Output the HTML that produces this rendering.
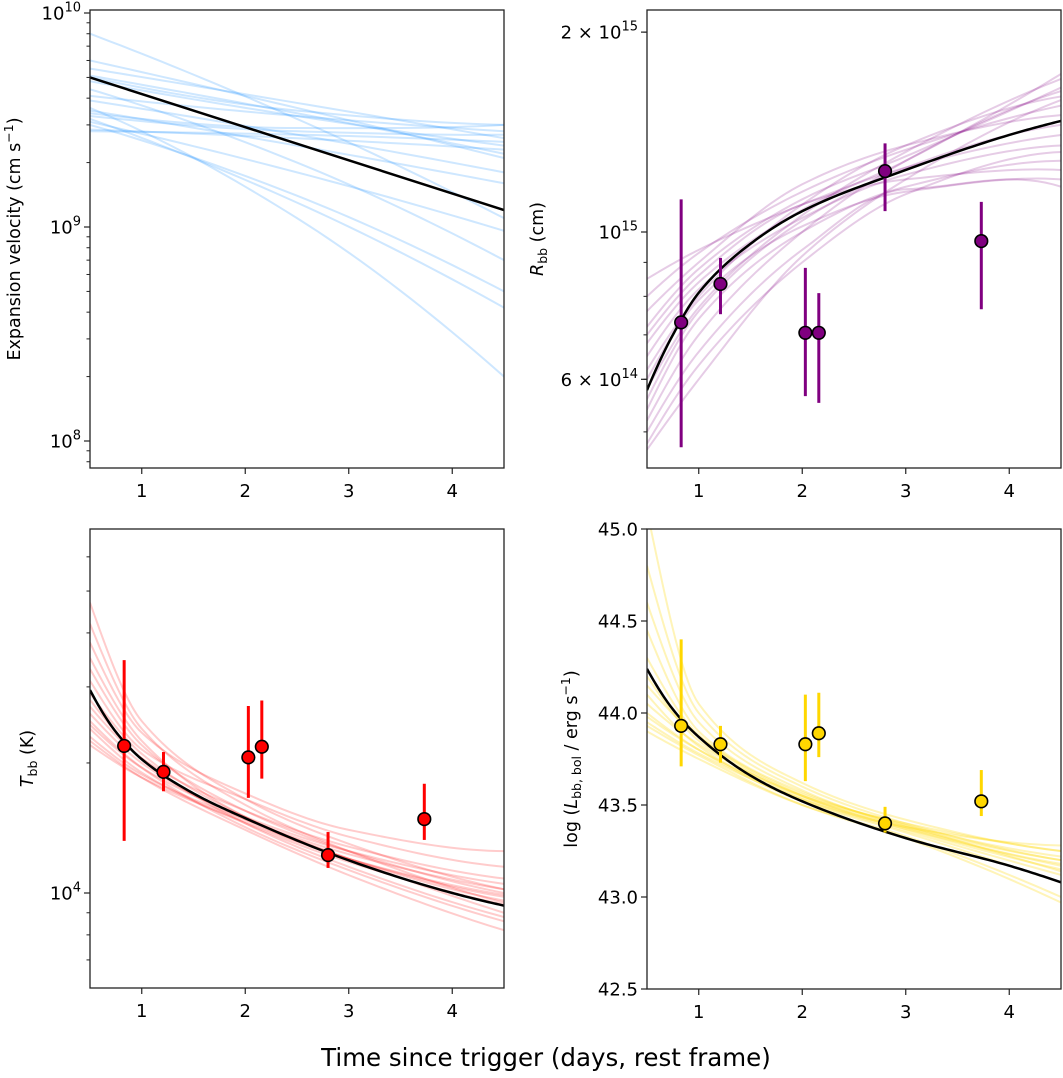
<!DOCTYPE html>
<html><head><meta charset="utf-8"><style>
html,body{margin:0;padding:0;background:#fff;}
svg{display:block;font-family:"DejaVu Sans","Liberation Sans",sans-serif;}
</style></head><body>
<svg id="fig" width="1063" height="1078" viewBox="0 0 1063 1078" xmlns="http://www.w3.org/2000/svg">
<defs>
<clipPath id="c1"><rect x="90" y="10" width="414" height="458"/></clipPath>
<clipPath id="c2"><rect x="647" y="10" width="414" height="458"/></clipPath>
<clipPath id="c3"><rect x="90" y="529" width="414" height="460"/></clipPath>
<clipPath id="c4"><rect x="647" y="529" width="414" height="460"/></clipPath>
</defs>
<text x="546" y="1066" font-size="24.5" text-anchor="middle">Time since trigger (days, rest frame)</text>
</svg>
<script>
// ---------- data ----------
const obsTimes = [0.83, 1.21, 2.03, 2.16, 2.80, 3.73];
const xTicks = [1, 2, 3, 4];
const sampleX = [0.5, 1, 2, 3, 4.5];
const fitX = [0.5, 0.75, 1, 1.5, 2, 3, 4, 4.5];

// velocity (units 1e9 cm/s) samples at x = 0.5, 2.5, 4.5
const velX = [0.5, 2.5, 4.5];
const velSamples = [
 [8.0,3.2,1.1],[6.0,3.6,2.1],[5.5,3.8,2.6],[5.1,3.4,2.2],[4.8,3.3,2.4],[4.4,2.0,0.7],
 [4.1,3.3,2.8],[3.9,2.7,1.8],[3.6,1.1,0.2],[3.5,2.4,1.6],[3.4,2.9,3.0],[3.3,2.8,2.7],
 [3.2,1.3,0.42],[3.1,1.8,0.96],[3.0,1.4,0.5],[2.8,2.7,2.5],[2.85,2.6,2.3],[5.0,3.5,3.0]
];
const velFitX = [0.5, 4.5];
const velFit = [5.0, 1.2];
const velTickVals = [1e8, 1e9, 1e10];

// radius (units 1e14 cm)
const rObs = [7.31, 8.35, 7.05, 7.05, 12.35, 9.69];
const rHi = [11.2, 9.14, 8.83, 8.09, 13.6, 11.1];
const rLo = [4.74, 7.52, 5.66, 5.53, 10.75, 7.65];
const rFit = [5.78, 7.0, 8.1, 9.6, 10.75, 12.4, 14.0, 14.7];
const rSamples = [
 [8.5,9.4,11.0,12.5,14.0],[8.0,9.3,11.5,13.3,15.5],[7.6,9.0,11.8,13.5,15.0],[7.2,8.8,11.2,13.0,16.5],
 [7.0,8.6,11.0,12.0,12.4],[6.8,8.4,10.8,12.8,17.3],[6.5,8.2,10.5,12.2,13.5],[6.2,8.0,11.0,13.5,16.0],
 [6.0,7.9,10.2,11.5,12.0],[5.8,7.7,10.6,13.2,17.0],[5.6,7.6,10.4,12.5,14.5],[5.4,7.4,10.0,11.7,12.8],
 [5.2,7.0,10.0,12.8,16.3],[5.0,6.6,9.4,11.6,11.7],[4.8,6.3,9.0,11.4,13.2],[4.7,6.0,9.2,12.0,15.8]
];

// temperature (units 1e3 K)
const tObs = [21.9, 19.07, 20.6, 21.8, 12.24, 14.83];
const tHi = [34.6, 21.2, 27.1, 27.9, 13.84, 17.9];
const tLo = [13.2, 17.2, 16.6, 18.4, 11.43, 13.27];
const tFit = [29.5, 23.6, 20.4, 17.0, 14.9, 11.9, 10.0, 9.35];
const tSamples = [
 [47,25,16.5,13,10.2],[42,24,16,12.5,9.5],[38,23.5,17,14,12.5],[35,22.5,15,12,9],
 [33,22,15.5,12.5,10],[31,21.5,16.5,13.5,11.5],[29,21,15,12,9.6],[28,20.5,14.5,11.5,8.8],
 [27,20.5,15.5,12.8,10.8],[26,20,14.8,12,9.8],[25,19.5,14.2,11.3,8.6],[24.5,19.5,15,12.5,10.5],
 [24,19,14.5,11.8,9.4],[23,18.8,14.8,12.3,10.2],[22.5,18.5,14,11,8.2],[22,18.5,14.6,12,9.9]
];

// luminosity (log erg/s)
const lObs = [43.93, 43.83, 43.83, 43.89, 43.40, 43.52];
const lHi = [44.40, 43.93, 44.10, 44.11, 43.49, 43.69];
const lLo = [43.71, 43.73, 43.63, 43.76, 43.35, 43.44];
const lFit = [44.24, 44.02, 43.87, 43.66, 43.52, 43.32, 43.17, 43.08];
const lSamples = [
 [45.1,44.05,43.62,43.42,43.25],[44.8,44.0,43.6,43.40,43.2],[44.6,43.95,43.58,43.38,43.18],
 [44.45,43.9,43.57,43.39,43.22],[44.3,43.88,43.55,43.37,43.15],[44.2,43.85,43.55,43.38,43.2],
 [44.1,43.82,43.53,43.36,43.12],[44.05,43.83,43.55,43.40,43.25],[44.0,43.8,43.52,43.35,43.08],
 [43.95,43.78,43.53,43.37,43.17],[43.9,43.75,43.5,43.33,43.0],[43.98,43.8,43.54,43.38,43.28],
 [44.15,43.87,43.56,43.39,43.14],[43.93,43.77,43.5,43.32,42.97]
];
const lTicks = [42.5, 43.0, 43.5, 44.0, 44.5, 45.0];

// ---------- helpers ----------
const NS = "http://www.w3.org/2000/svg";
const svg = document.getElementById('fig');
function mk(tag, attrs, parent) {
  const e = document.createElementNS(NS, tag);
  for (const k in attrs) e.setAttribute(k, attrs[k]);
  (parent || svg).appendChild(e);
  return e;
}
function curvePath(xs, ys, X, Yt, Ypix) {
  const n = xs.length;
  const t = ys.map(Yt);
  if (n === 2) return `M${X(xs[0])},${Ypix(t[0])} L${X(xs[1])},${Ypix(t[1])}`;
  const h = [], d = [];
  for (let i = 0; i < n - 1; i++) { h.push(xs[i + 1] - xs[i]); d.push((t[i + 1] - t[i]) / h[i]); }
  const m = new Array(n);
  for (let i = 1; i < n - 1; i++) {
    if (d[i - 1] * d[i] <= 0) m[i] = 0;
    else { const w1 = 2 * h[i] + h[i - 1], w2 = h[i] + 2 * h[i - 1]; m[i] = (w1 + w2) / (w1 / d[i - 1] + w2 / d[i]); }
  }
  m[0] = ((2 * h[0] + h[1]) * d[0] - h[0] * d[1]) / (h[0] + h[1]);
  m[n - 1] = ((2 * h[n - 2] + h[n - 3]) * d[n - 2] - h[n - 2] * d[n - 3]) / (h[n - 2] + h[n - 3]);
  let path = '';
  for (let i = 0; i < n - 1; i++) {
    for (let k = 0; k <= 20; k++) {
      if (i > 0 && k === 0) continue;
      const s = k / 20, hh = h[i];
      const h00 = 2*s*s*s - 3*s*s + 1, h10 = s*s*s - 2*s*s + s, h01 = -2*s*s*s + 3*s*s, h11 = s*s*s - s*s;
      const v = h00 * t[i] + h10 * hh * m[i] + h01 * t[i + 1] + h11 * hh * m[i + 1];
      const xx = xs[i] + s * hh;
      path += (path ? ' L' : 'M') + X(xx).toFixed(2) + ',' + Ypix(v).toFixed(2);
    }
  }
  return path;
}
function makePanel(p) {
  const g = mk('g', {});
  
  
  const X = v => p.left + (v - 0.5) * (p.width / 4);
  const Y = v => p.Ypix(p.Yt(v));
  const data = mk('g', {'clip-path': `url(#${p.clip})`}, g);
  p.samples.forEach(s => {
    const path = mk('path', {d: curvePath(p.sx, s, X, p.Yt, p.Ypix), fill: 'none', stroke: p.color, 'stroke-opacity': p.alpha, 'stroke-width': 2}, data);
    
    
  });
  const fit = mk('path', {d: curvePath(p.fx, p.fit, X, p.Yt, p.Ypix), fill: 'none', stroke: '#000', 'stroke-width': 2.5}, data);
  
  
  if (p.obs) {
    obsTimes.forEach((t, i) => {
      const eb = mk('line', {x1: X(t), x2: X(t), y1: Y(p.hi[i]), y2: Y(p.lo[i]), stroke: p.ecolor, 'stroke-width': 3}, data);
      
      
    });
    obsTimes.forEach((t, i) => {
      const c = mk('circle', {cx: X(t), cy: Y(p.obs[i]), r: 6.3, fill: p.ecolor, stroke: '#000', 'stroke-width': 1.6}, data);
      
      
    });
  }
  const fr = mk('rect', {x: p.left, y: p.top, width: p.width, height: p.bottom - p.top, fill: 'none', stroke: '#222', 'stroke-width': 1.3}, g);
  
  
  xTicks.forEach(t => {
    mk('line', {x1: X(t), x2: X(t), y1: p.bottom, y2: p.bottom + 6, stroke: '#222', 'stroke-width': 1.2}, g);
    const tl = mk('text', {x: X(t), y: p.bottom + 29, 'font-size': 18, 'text-anchor': 'middle'}, g);
    tl.textContent = t;
    
    
  });
  p.minor.forEach(v => {
    const y = Y(v);
    if (y >= p.top - 0.5 && y <= p.bottom + 0.5) mk('line', {x1: p.left - 3.5, x2: p.left, y1: y, y2: y, stroke: '#222', 'stroke-width': 1}, g);
  });
  p.major.forEach((v, i) => {
    const y = Y(v);
    mk('line', {x1: p.left - 6, x2: p.left, y1: y, y2: y, stroke: '#222', 'stroke-width': 1.2}, g);
    const tl = mk('text', {x: p.left - 9, y: y + 6.5, 'font-size': 18, 'text-anchor': 'end'}, g);
    tl.innerHTML = p.majorLabels[i];
    
    
  });
  const cy = (p.top + p.bottom) / 2;
  const yl = mk('text', {x: p.ylx, y: cy, 'font-size': 17.5, 'text-anchor': 'middle', transform: `rotate(-90 ${p.ylx} ${cy})`}, g);
  yl.innerHTML = p.ylabel;
  
  
}
function logMinors(lo, hi) {
  const out = [];
  for (let e = lo; e <= hi; e++) for (let m = 2; m <= 9; m++) out.push(m * Math.pow(10, e));
  return out;
}
const sup = s => `<tspan dy="-8" font-size="13">${s}</tspan>`;
const lg = v => Math.log10(v);

makePanel({
  name: 'velocity-panel', clip: 'c1', left: 90, width: 414, top: 10, bottom: 468,
  Yt: lg, Ypix: l => 227 - 214 * l, color: 'dodgerblue', alpha: 0.22,
  samples: velSamples, sx: velX, fit: velFit, fx: velFitX,
  minor: logMinors(-2, 0),
  major: velTickVals.map(v => v / 1e9),
  majorLabels: ['10' + sup('8'), '10' + sup('9'), '10' + sup('10')],
  ylx: 20, ylabel: 'Expansion velocity (cm s' + '<tspan dy="-7" font-size="12.5">−1</tspan><tspan dy="7">)</tspan>'
});
makePanel({
  name: 'radius-panel', clip: 'c2', left: 647, width: 414, top: 10, bottom: 468,
  Yt: lg, Ypix: l => 232 - 664 * (l - 1), color: 'purple', alpha: 0.2,
  samples: rSamples, sx: sampleX, fit: rFit, fx: fitX,
  obs: rObs, hi: rHi, lo: rLo, ecolor: 'purple',
  minor: logMinors(0, 1),
  major: [6, 10, 20],
  majorLabels: ['6 × 10' + sup('14'), '10' + sup('15'), '2 × 10' + sup('15')],
  ylx: 543, ylabel: '<tspan font-style="italic">R</tspan><tspan dy="4" font-size="12.5">bb</tspan><tspan dy="-4"> (cm)</tspan>'
});
makePanel({
  name: 'temperature-panel', clip: 'c3', left: 90, width: 414, top: 529, bottom: 988,
  Yt: lg, Ypix: l => 893 - 432 * (l - 1), color: 'red', alpha: 0.2,
  samples: tSamples, sx: sampleX, fit: tFit, fx: fitX,
  obs: tObs, hi: tHi, lo: tLo, ecolor: 'red',
  minor: logMinors(0, 1),
  major: [10],
  majorLabels: ['10' + sup('4')],
  ylx: 33, ylabel: '<tspan font-style="italic">T</tspan><tspan dy="4" font-size="12.5">bb</tspan><tspan dy="-4"> (K)</tspan>'
});
makePanel({
  name: 'luminosity-panel', clip: 'c4', left: 647, width: 414, top: 529, bottom: 989,
  Yt: v => v, Ypix: v => 713 - 184 * (v - 44), color: 'gold', alpha: 0.28,
  samples: lSamples, sx: sampleX, fit: lFit, fx: fitX,
  obs: lObs, hi: lHi, lo: lLo, ecolor: 'gold',
  minor: [],
  major: lTicks,
  majorLabels: lTicks.map(v => v.toFixed(1)),
  ylx: 577, ylabel: 'log (<tspan font-style="italic">L</tspan><tspan dy="4" font-size="12.5">bb, bol</tspan><tspan dy="-4"> / erg s</tspan><tspan dy="-7" font-size="12.5">−1</tspan><tspan dy="7">)</tspan>'
});
</script>
</body></html>
